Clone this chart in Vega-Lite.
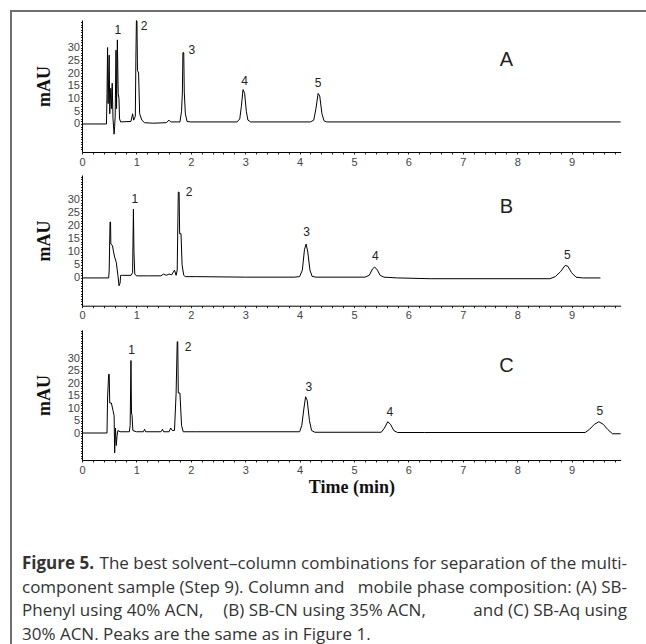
{
  "$schema": "https://vega.github.io/schema/vega-lite/v6.json",
  "width": 635,
  "height": 633,
  "autosize": "none",
  "padding": {"left": 11, "top": 11, "right": 0, "bottom": 0},
  "background": "white",
  "config": {
    "view": {"stroke": "#6f6f6f", "strokeWidth": 2, "strokeDash": [635, 1268, 633]},
    "axis": {
      "grid": false, "domainColor": "#000", "domainWidth": 1, "tickColor": "#222", "tickWidth": 1,
      "labelFont": "Liberation Sans", "labelFontSize": 11, "labelColor": "#444",
      "labelOverlap": false, "labelFlush": false,
      "titleFont": "Liberation Serif", "titleFontWeight": "bold", "titleFontSize": 18, "titleColor": "#111"
    },
    "text": {"font": "Liberation Sans"}
  },
  "datasets": {
    "trace": [
      {"panel":"A","t":0,"v":0},{"panel":"A","t":0.45,"v":0},{"panel":"A","t":0.46,"v":12},{"panel":"A","t":0.47,"v":30},{"panel":"A","t":0.48,"v":8},{"panel":"A","t":0.5,"v":27},{"panel":"A","t":0.51,"v":4},{"panel":"A","t":0.53,"v":14},{"panel":"A","t":0.545,"v":6},{"panel":"A","t":0.555,"v":16},{"panel":"A","t":0.57,"v":2},{"panel":"A","t":0.59,"v":-4},{"panel":"A","t":0.6,"v":-1},{"panel":"A","t":0.61,"v":3},{"panel":"A","t":0.625,"v":29},{"panel":"A","t":0.635,"v":6},{"panel":"A","t":0.65,"v":33},{"panel":"A","t":0.665,"v":12},{"panel":"A","t":0.68,"v":10},{"panel":"A","t":0.69,"v":2},{"panel":"A","t":0.71,"v":0.8},{"panel":"A","t":0.9,"v":1},{"panel":"A","t":0.93,"v":4},{"panel":"A","t":0.95,"v":1.5},{"panel":"A","t":0.98,"v":3},{"panel":"A","t":0.99,"v":25},{"panel":"A","t":1.0,"v":40.5},{"panel":"A","t":1.01,"v":40.5},{"panel":"A","t":1.02,"v":21},{"panel":"A","t":1.04,"v":20},{"panel":"A","t":1.06,"v":4},{"panel":"A","t":1.1,"v":1.5},{"panel":"A","t":1.15,"v":0.5},{"panel":"A","t":1.3,"v":0.3},{"panel":"A","t":1.55,"v":0.5},{"panel":"A","t":1.6,"v":1.5},{"panel":"A","t":1.63,"v":0.8},{"panel":"A","t":1.8,"v":0.8},{"panel":"A","t":1.83,"v":5},{"panel":"A","t":1.845,"v":12.5},{"panel":"A","t":1.855,"v":28},{"panel":"A","t":1.87,"v":28},{"panel":"A","t":1.88,"v":12.5},{"panel":"A","t":1.9,"v":4},{"panel":"A","t":1.93,"v":1},{"panel":"A","t":2.0,"v":0.8},{"panel":"A","t":2.85,"v":0.8},{"panel":"A","t":2.9,"v":2},{"panel":"A","t":2.93,"v":7},{"panel":"A","t":2.96,"v":13.5},{"panel":"A","t":2.99,"v":12},{"panel":"A","t":3.02,"v":5},{"panel":"A","t":3.05,"v":1.5},{"panel":"A","t":3.1,"v":0.8},{"panel":"A","t":4.2,"v":0.8},{"panel":"A","t":4.26,"v":1.5},{"panel":"A","t":4.3,"v":6},{"panel":"A","t":4.34,"v":12},{"panel":"A","t":4.37,"v":11},{"panel":"A","t":4.41,"v":4},{"panel":"A","t":4.45,"v":1.2},{"panel":"A","t":4.5,"v":0.8},{"panel":"A","t":9.9,"v":0.8},
      {"panel":"B","t":0,"v":0},{"panel":"B","t":0.49,"v":0},{"panel":"B","t":0.5,"v":3},{"panel":"B","t":0.515,"v":21.5},{"panel":"B","t":0.525,"v":21.5},{"panel":"B","t":0.53,"v":13},{"panel":"B","t":0.56,"v":12.5},{"panel":"B","t":0.58,"v":10},{"panel":"B","t":0.6,"v":8},{"panel":"B","t":0.63,"v":6},{"panel":"B","t":0.66,"v":1},{"panel":"B","t":0.68,"v":-3},{"panel":"B","t":0.7,"v":-2},{"panel":"B","t":0.71,"v":1},{"panel":"B","t":0.74,"v":1},{"panel":"B","t":0.9,"v":1},{"panel":"B","t":0.93,"v":2},{"panel":"B","t":0.945,"v":26.5},{"panel":"B","t":0.955,"v":10},{"panel":"B","t":0.97,"v":1.5},{"panel":"B","t":1.0,"v":0.8},{"panel":"B","t":1.2,"v":0.8},{"panel":"B","t":1.45,"v":0.8},{"panel":"B","t":1.5,"v":1.5},{"panel":"B","t":1.55,"v":1},{"panel":"B","t":1.6,"v":1.5},{"panel":"B","t":1.65,"v":1.2},{"panel":"B","t":1.7,"v":3},{"panel":"B","t":1.73,"v":1},{"panel":"B","t":1.75,"v":3},{"panel":"B","t":1.77,"v":33},{"panel":"B","t":1.785,"v":33},{"panel":"B","t":1.795,"v":17},{"panel":"B","t":1.82,"v":17},{"panel":"B","t":1.84,"v":5},{"panel":"B","t":1.87,"v":1},{"panel":"B","t":1.9,"v":0.5},{"panel":"B","t":2.1,"v":0.5},{"panel":"B","t":3.0,"v":0.3},{"panel":"B","t":3.9,"v":0.3},{"panel":"B","t":4.0,"v":0.5},{"panel":"B","t":4.05,"v":3},{"panel":"B","t":4.09,"v":11},{"panel":"B","t":4.12,"v":13},{"panel":"B","t":4.15,"v":10},{"panel":"B","t":4.19,"v":3},{"panel":"B","t":4.23,"v":0.6},{"panel":"B","t":4.3,"v":0.3},{"panel":"B","t":5.2,"v":0.3},{"panel":"B","t":5.28,"v":1},{"panel":"B","t":5.34,"v":3.5},{"panel":"B","t":5.38,"v":4.2},{"panel":"B","t":5.43,"v":3},{"panel":"B","t":5.48,"v":1},{"panel":"B","t":5.55,"v":0.3},{"panel":"B","t":5.8,"v":0},{"panel":"B","t":6.4,"v":-0.3},{"panel":"B","t":8.6,"v":-0.3},{"panel":"B","t":8.7,"v":0.5},{"panel":"B","t":8.8,"v":2.5},{"panel":"B","t":8.88,"v":4.8},{"panel":"B","t":8.93,"v":4.5},{"panel":"B","t":9.0,"v":2},{"panel":"B","t":9.08,"v":0.3},{"panel":"B","t":9.2,"v":0},{"panel":"B","t":9.53,"v":0},
      {"panel":"C","t":0,"v":0},{"panel":"C","t":0.46,"v":0},{"panel":"C","t":0.47,"v":14},{"panel":"C","t":0.49,"v":23.5},{"panel":"C","t":0.5,"v":23.5},{"panel":"C","t":0.51,"v":12},{"panel":"C","t":0.54,"v":12},{"panel":"C","t":0.57,"v":9},{"panel":"C","t":0.59,"v":7},{"panel":"C","t":0.6,"v":-8},{"panel":"C","t":0.615,"v":2},{"panel":"C","t":0.63,"v":-5},{"panel":"C","t":0.645,"v":-1},{"panel":"C","t":0.66,"v":1},{"panel":"C","t":0.7,"v":0.5},{"panel":"C","t":0.87,"v":0.5},{"panel":"C","t":0.885,"v":3},{"panel":"C","t":0.9,"v":29},{"panel":"C","t":0.91,"v":8},{"panel":"C","t":0.92,"v":7},{"panel":"C","t":0.935,"v":1},{"panel":"C","t":1.0,"v":0.5},{"panel":"C","t":1.13,"v":0.5},{"panel":"C","t":1.15,"v":1.5},{"panel":"C","t":1.17,"v":0.5},{"panel":"C","t":1.45,"v":0.5},{"panel":"C","t":1.48,"v":1.5},{"panel":"C","t":1.5,"v":0.5},{"panel":"C","t":1.6,"v":0.5},{"panel":"C","t":1.63,"v":2},{"panel":"C","t":1.66,"v":1},{"panel":"C","t":1.7,"v":1},{"panel":"C","t":1.73,"v":16},{"panel":"C","t":1.75,"v":36.5},{"panel":"C","t":1.76,"v":36.5},{"panel":"C","t":1.77,"v":16},{"panel":"C","t":1.8,"v":16},{"panel":"C","t":1.83,"v":3},{"panel":"C","t":1.86,"v":0.5},{"panel":"C","t":2.1,"v":0.5},{"panel":"C","t":4.0,"v":0.5},{"panel":"C","t":4.04,"v":3},{"panel":"C","t":4.08,"v":10},{"panel":"C","t":4.11,"v":14.5},{"panel":"C","t":4.14,"v":13},{"panel":"C","t":4.18,"v":5},{"panel":"C","t":4.22,"v":1},{"panel":"C","t":4.28,"v":0.3},{"panel":"C","t":5.5,"v":0.3},{"panel":"C","t":5.56,"v":2},{"panel":"C","t":5.62,"v":4.5},{"panel":"C","t":5.67,"v":3.5},{"panel":"C","t":5.73,"v":1},{"panel":"C","t":5.8,"v":0.2},{"panel":"C","t":6.3,"v":0.2},{"panel":"C","t":9.25,"v":0.2},{"panel":"C","t":9.33,"v":1.5},{"panel":"C","t":9.42,"v":3.5},{"panel":"C","t":9.5,"v":4.5},{"panel":"C","t":9.58,"v":3.5},{"panel":"C","t":9.66,"v":1.5},{"panel":"C","t":9.75,"v":-0.3},{"panel":"C","t":9.9,"v":-0.3}
    ],
    "labels": [
      {"panel":"A","kind":"peak","t":0.66,"v":36.7,"text":"1"},{"panel":"A","kind":"peak","t":1.14,"v":38.4,"text":"2"},{"panel":"A","kind":"peak","t":2.02,"v":29,"text":"3"},{"panel":"A","kind":"peak","t":2.99,"v":16.9,"text":"4"},{"panel":"A","kind":"peak","t":4.34,"v":16.2,"text":"5"},{"panel":"A","kind":"panel","t":7.8,"v":25.1,"text":"A"},
      {"panel":"B","kind":"peak","t":0.97,"v":30.2,"text":"1"},{"panel":"B","kind":"peak","t":1.97,"v":33,"text":"2"},{"panel":"B","kind":"peak","t":4.13,"v":17.5,"text":"3"},{"panel":"B","kind":"peak","t":5.39,"v":8.4,"text":"4"},{"panel":"B","kind":"peak","t":8.92,"v":8.7,"text":"5"},{"panel":"B","kind":"panel","t":7.8,"v":27.2,"text":"B"},
      {"panel":"C","kind":"peak","t":0.91,"v":33.3,"text":"1"},{"panel":"C","kind":"peak","t":1.95,"v":34.4,"text":"2"},{"panel":"C","kind":"peak","t":4.17,"v":18.4,"text":"3"},{"panel":"C","kind":"peak","t":5.66,"v":8.4,"text":"4"},{"panel":"C","kind":"peak","t":9.52,"v":9.0,"text":"5"},{"panel":"C","kind":"panel","t":7.8,"v":26.7,"text":"C"}
    ],
    "caption": [
      {"line":1,"side":"L","weight":"bold","text":"Figure 5."},
      {"line":1,"side":"R","weight":"normal","text":"The best solvent–column combinations for separation of the multi-"},
      {"line":2,"side":"L","weight":"normal","text":"component sample (Step 9). Column and"},
      {"line":2,"side":"R","weight":"normal","text":"mobile phase composition: (A) SB-"},
      {"line":3,"side":"L","weight":"normal","text":"Phenyl using 40% ACN,"},
      {"line":3,"side":"M","weight":"normal","text":"(B) SB-CN using 35% ACN,"},
      {"line":3,"side":"R","weight":"normal","text":"and (C) SB-Aq using"},
      {"line":4,"side":"L","weight":"normal","text":"30% ACN. Peaks are the same as in Figure 1."}
    ]
  },
  "resolve": {"scale": {"x": "independent", "y": "independent"}, "axis": {"x": "independent", "y": "independent"}},
  "layer": [
    {
      "data": {"name": "trace"},
      "transform": [{"filter": "datum.panel === 'A'"}],
      "mark": {"type": "line", "color": "#000", "strokeWidth": 1},
      "encoding": {
        "x": {"field": "t", "type": "quantitative", "scale": {"domain": [0, 9.9], "range": [71, 609.6], "nice": false, "zero": false},
          "axis": {"orient": "bottom", "offset": -492, "title": null, "tickSize": 2, "labelPadding": 2,
            "values": [0,0.2,0.4,0.6,0.8,1,1.2,1.4,1.6,1.8,2,2.2,2.4,2.6,2.8,3,3.2,3.4,3.6,3.8,4,4.2,4.4,4.6,4.8,5,5.2,5.4,5.6,5.8,6,6.2,6.4,6.6,6.8,7,7.2,7.4,7.6,7.8,8,8.2,8.4,8.6,8.8,9,9.2,9.4,9.6,9.8],
            "labelExpr": "datum.value % 1 === 0 ? format(datum.value, 'd') : ''"}},
        "y": {"field": "v", "type": "quantitative", "scale": {"domain": [-11, 40.8], "range": [141, 9], "nice": false, "zero": false},
          "axis": {"orient": "left", "offset": -71, "title": "mAU", "titlePadding": 14, "tickSize": 1.5, "labelPadding": 1,
            "values": [-10,-9,-8,-7,-6,-5,-4,-3,-2,-1,0,1,2,3,4,5,6,7,8,9,10,11,12,13,14,15,16,17,18,19,20,21,22,23,24,25,26,27,28,29,30,31,32,33,34,35,36,37,38,39,40],
            "labelExpr": "datum.value >= 0 && datum.value <= 30 && datum.value % 5 === 0 ? format(datum.value, 'd') : ''"}}
      }
    },
    {
      "data": {"name": "labels"},
      "transform": [{"filter": "datum.panel === 'A' && datum.kind === 'peak'"}],
      "mark": {"type": "text", "fontSize": 12, "color": "#222", "align": "center", "baseline": "middle"},
      "encoding": {
        "x": {"field": "t", "type": "quantitative", "scale": {"domain": [0, 9.9], "range": [71, 609.6], "nice": false, "zero": false}, "axis": null},
        "y": {"field": "v", "type": "quantitative", "scale": {"domain": [-11, 40.8], "range": [141, 9], "nice": false, "zero": false}, "axis": null},
        "text": {"field": "text"}
      }
    },
    {
      "data": {"name": "labels"},
      "transform": [{"filter": "datum.panel === 'A' && datum.kind === 'panel'"}],
      "mark": {"type": "text", "fontSize": 20, "color": "#222", "align": "center", "baseline": "middle"},
      "encoding": {
        "x": {"field": "t", "type": "quantitative", "scale": {"domain": [0, 9.9], "range": [71, 609.6], "nice": false, "zero": false}, "axis": null},
        "y": {"field": "v", "type": "quantitative", "scale": {"domain": [-11, 40.8], "range": [141, 9], "nice": false, "zero": false}, "axis": null},
        "text": {"field": "text"}
      }
    },
    {
      "data": {"name": "trace"},
      "transform": [{"filter": "datum.panel === 'B'"}],
      "mark": {"type": "line", "color": "#000", "strokeWidth": 1},
      "encoding": {
        "x": {"field": "t", "type": "quantitative", "scale": {"domain": [0, 9.9], "range": [71, 609.6], "nice": false, "zero": false},
          "axis": {"orient": "bottom", "offset": -338.3, "title": null, "tickSize": 2, "labelPadding": 2,
            "values": [0,0.2,0.4,0.6,0.8,1,1.2,1.4,1.6,1.8,2,2.2,2.4,2.6,2.8,3,3.2,3.4,3.6,3.8,4,4.2,4.4,4.6,4.8,5,5.2,5.4,5.6,5.8,6,6.2,6.4,6.6,6.8,7,7.2,7.4,7.6,7.8,8,8.2,8.4,8.6,8.8,9,9.2,9.4,9.6,9.8],
            "labelExpr": "datum.value % 1 === 0 ? format(datum.value, 'd') : ''"}},
        "y": {"field": "v", "type": "quantitative", "scale": {"domain": [-10.8, 39.6], "range": [295, 164], "nice": false, "zero": false},
          "axis": {"orient": "left", "offset": -71, "title": "mAU", "titlePadding": 14, "tickSize": 1.5, "labelPadding": 1,
            "values": [-10,-9,-8,-7,-6,-5,-4,-3,-2,-1,0,1,2,3,4,5,6,7,8,9,10,11,12,13,14,15,16,17,18,19,20,21,22,23,24,25,26,27,28,29,30,31,32,33,34,35,36,37,38,39],
            "labelExpr": "datum.value >= 0 && datum.value <= 30 && datum.value % 5 === 0 ? format(datum.value, 'd') : ''"}}
      }
    },
    {
      "data": {"name": "labels"},
      "transform": [{"filter": "datum.panel === 'B' && datum.kind === 'peak'"}],
      "mark": {"type": "text", "fontSize": 12, "color": "#222", "align": "center", "baseline": "middle"},
      "encoding": {
        "x": {"field": "t", "type": "quantitative", "scale": {"domain": [0, 9.9], "range": [71, 609.6], "nice": false, "zero": false}, "axis": null},
        "y": {"field": "v", "type": "quantitative", "scale": {"domain": [-10.8, 39.6], "range": [295, 164], "nice": false, "zero": false}, "axis": null},
        "text": {"field": "text"}
      }
    },
    {
      "data": {"name": "labels"},
      "transform": [{"filter": "datum.panel === 'B' && datum.kind === 'panel'"}],
      "mark": {"type": "text", "fontSize": 20, "color": "#222", "align": "center", "baseline": "middle"},
      "encoding": {
        "x": {"field": "t", "type": "quantitative", "scale": {"domain": [0, 9.9], "range": [71, 609.6], "nice": false, "zero": false}, "axis": null},
        "y": {"field": "v", "type": "quantitative", "scale": {"domain": [-10.8, 39.6], "range": [295, 164], "nice": false, "zero": false}, "axis": null},
        "text": {"field": "text"}
      }
    },
    {
      "data": {"name": "trace"},
      "transform": [{"filter": "datum.panel === 'C'"}],
      "mark": {"type": "line", "color": "#000", "strokeWidth": 1},
      "encoding": {
        "x": {"field": "t", "type": "quantitative", "scale": {"domain": [0, 9.9], "range": [71, 609.6], "nice": false, "zero": false},
          "axis": {"orient": "bottom", "offset": -184, "title": "Time (min)", "titlePadding": 3, "tickSize": 2, "labelPadding": 2,
            "values": [0,0.2,0.4,0.6,0.8,1,1.2,1.4,1.6,1.8,2,2.2,2.4,2.6,2.8,3,3.2,3.4,3.6,3.8,4,4.2,4.4,4.6,4.8,5,5.2,5.4,5.6,5.8,6,6.2,6.4,6.6,6.8,7,7.2,7.4,7.6,7.8,8,8.2,8.4,8.6,8.8,9,9.2,9.4,9.6,9.8],
            "labelExpr": "datum.value % 1 === 0 ? format(datum.value, 'd') : ''"}},
        "y": {"field": "v", "type": "quantitative", "scale": {"domain": [-10.8, 41.2], "range": [449, 319], "nice": false, "zero": false},
          "axis": {"orient": "left", "offset": -71, "title": "mAU", "titlePadding": 14, "tickSize": 1.5, "labelPadding": 1,
            "values": [-10,-9,-8,-7,-6,-5,-4,-3,-2,-1,0,1,2,3,4,5,6,7,8,9,10,11,12,13,14,15,16,17,18,19,20,21,22,23,24,25,26,27,28,29,30,31,32,33,34,35,36,37,38,39,40,41],
            "labelExpr": "datum.value >= 0 && datum.value <= 30 && datum.value % 5 === 0 ? format(datum.value, 'd') : ''"}}
      }
    },
    {
      "data": {"name": "labels"},
      "transform": [{"filter": "datum.panel === 'C' && datum.kind === 'peak'"}],
      "mark": {"type": "text", "fontSize": 12, "color": "#222", "align": "center", "baseline": "middle"},
      "encoding": {
        "x": {"field": "t", "type": "quantitative", "scale": {"domain": [0, 9.9], "range": [71, 609.6], "nice": false, "zero": false}, "axis": null},
        "y": {"field": "v", "type": "quantitative", "scale": {"domain": [-10.8, 41.2], "range": [449, 319], "nice": false, "zero": false}, "axis": null},
        "text": {"field": "text"}
      }
    },
    {
      "data": {"name": "labels"},
      "transform": [{"filter": "datum.panel === 'C' && datum.kind === 'panel'"}],
      "mark": {"type": "text", "fontSize": 20, "color": "#222", "align": "center", "baseline": "middle"},
      "encoding": {
        "x": {"field": "t", "type": "quantitative", "scale": {"domain": [0, 9.9], "range": [71, 609.6], "nice": false, "zero": false}, "axis": null},
        "y": {"field": "v", "type": "quantitative", "scale": {"domain": [-10.8, 41.2], "range": [449, 319], "nice": false, "zero": false}, "axis": null},
        "text": {"field": "text"}
      }
    },
    {
      "data": {"name": "caption"},
      "transform": [{"filter": "datum.side === 'L' && datum.weight === 'bold'"}],
      "mark": {"type": "text", "font": "Open Sans", "fontSize": 17, "fontWeight": "bold", "color": "#333", "align": "left", "baseline": "alphabetic"},
      "encoding": {
        "x": {"datum": 0, "type": "quantitative", "scale": {"domain": [0, 1], "range": [11, 616], "nice": false, "zero": false}, "axis": null},
        "y": {"field": "line", "type": "ordinal", "scale": {"type": "point", "domain": [1, 2, 3, 4], "range": [558, 629], "padding": 0}, "axis": null},
        "text": {"field": "text"}
      }
    },
    {
      "data": {"name": "caption"},
      "transform": [{"filter": "datum.side === 'L' && datum.weight === 'normal'"}],
      "mark": {"type": "text", "font": "Open Sans", "fontSize": 17, "color": "#333", "align": "left", "baseline": "alphabetic"},
      "encoding": {
        "x": {"datum": 0, "type": "quantitative", "scale": {"domain": [0, 1], "range": [11, 616], "nice": false, "zero": false}, "axis": null},
        "y": {"field": "line", "type": "ordinal", "scale": {"type": "point", "domain": [1, 2, 3, 4], "range": [558, 629], "padding": 0}, "axis": null},
        "text": {"field": "text"}
      }
    },
    {
      "data": {"name": "caption"},
      "transform": [{"filter": "datum.side === 'M'"}],
      "mark": {"type": "text", "font": "Open Sans", "fontSize": 17, "color": "#333", "align": "center", "baseline": "alphabetic"},
      "encoding": {
        "x": {"datum": 0.5, "type": "quantitative", "scale": {"domain": [0, 1], "range": [11, 616], "nice": false, "zero": false}, "axis": null},
        "y": {"field": "line", "type": "ordinal", "scale": {"type": "point", "domain": [1, 2, 3, 4], "range": [558, 629], "padding": 0}, "axis": null},
        "text": {"field": "text"}
      }
    },
    {
      "data": {"name": "caption"},
      "transform": [{"filter": "datum.side === 'R'"}],
      "mark": {"type": "text", "font": "Open Sans", "fontSize": 17, "color": "#333", "align": "right", "baseline": "alphabetic"},
      "encoding": {
        "x": {"datum": 1, "type": "quantitative", "scale": {"domain": [0, 1], "range": [11, 616], "nice": false, "zero": false}, "axis": null},
        "y": {"field": "line", "type": "ordinal", "scale": {"type": "point", "domain": [1, 2, 3, 4], "range": [558, 629], "padding": 0}, "axis": null},
        "text": {"field": "text"}
      }
    }
  ]
}
